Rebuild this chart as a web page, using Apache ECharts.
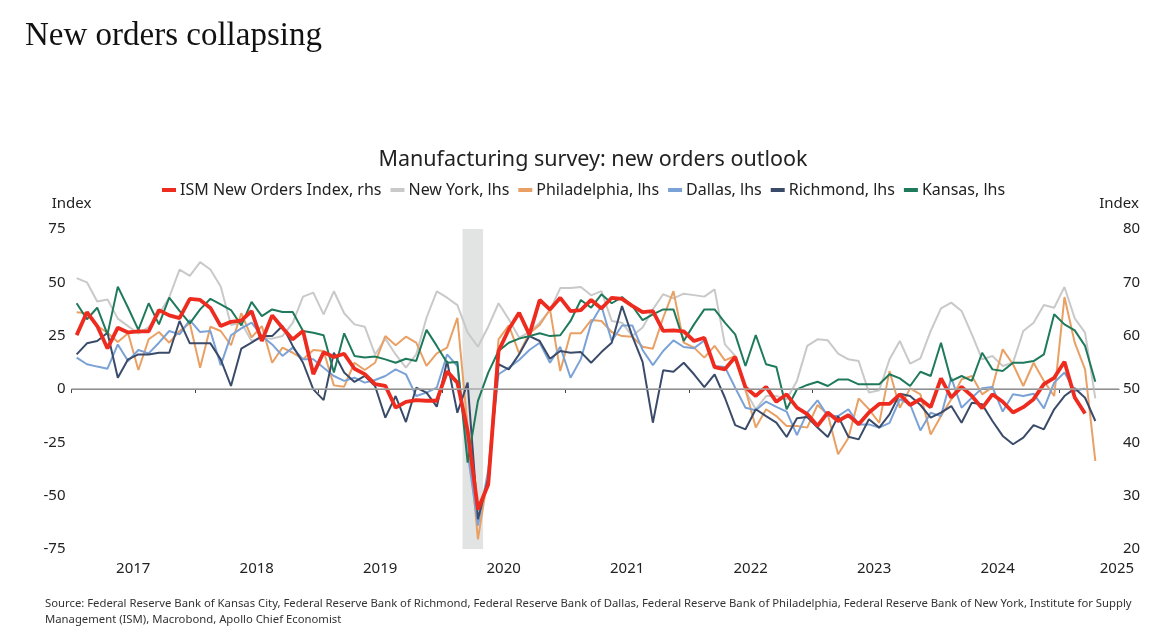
<!DOCTYPE html>
<html><head><meta charset="utf-8">
<script src="https://cdn.jsdelivr.net/npm/echarts@6/dist/echarts.min.js"></script>
<style>html,body{margin:0;padding:0;background:#fff}#c{width:1154px;height:632px}</style>
</head><body><div id="c"></div>
<script>
// Monthly data, first value = Jan 2017
const startYear = 2017;
const yearLabels = ['2017','2018','2019','2020','2021','2022','2023','2024','2025'];
const seriesNames = ['ISM New Orders Index, rhs','New York, lhs','Philadelphia, lhs','Dallas, lhs','Richmond, lhs','Kansas, lhs'];
// ISM new orders (rhs), Jan 2017 - Mar 2025
const ism = [60.1,64.4,61.8,57.6,61.5,60.6,60.8,60.8,64.8,63.8,63.3,66.9,66.7,65.2,61.8,62.6,62.8,64.6,59.0,
 63.8,61.5,59.3,60.9,52.8,56.9,56.0,56.6,53.8,52.8,50.9,50.6,46.5,47.6,47.9,47.8,47.8,53.3,51.2,
 42.1,27.4,32.1,57.1,61.2,64.3,60.2,66.7,64.9,67.1,64.6,64.8,66.7,65.1,67.1,66.9,65.6,64.4,64.6,
 60.9,61.0,60.8,59.0,59.6,54.1,53.7,56.0,50.3,48.7,50.4,47.6,49.0,46.5,45.3,43.1,45.6,44.0,45.1,
 43.4,45.6,47.2,47.2,49.0,47.0,48.1,46.6,52.0,48.4,50.4,48.7,46.4,49.0,47.6,45.6,46.6,48.1,50.9,
 52.1,55.1,48.4,45.4];
// Regional Fed surveys (lhs), Jan 2017 - Apr 2025
const newYork = [52,50,41,42,33,29.5,26,29,35,43,56,53,59.5,56,48,30,31,22.5,24,
 23.6,24.8,31,43.3,45.2,35,45.8,35.5,30.3,29.2,16.2,23.6,16.2,10,16.2,33.4,45.8,42.8,39.3,
 26.4,19.8,29.2,40.2,32.7,24.1,26.7,31.1,37,47.3,47.3,47.8,43.9,45.9,31.9,31.1,24.8,28.8,37.3,
 44.4,42.5,44.7,44,43.3,46.7,20.9,15.5,-0.9,-9.5,-3.3,-3.3,-4.8,3.8,20.2,23.3,22.8,16.6,13.9,
 13.1,-1.7,-0.6,13.9,22.5,11.9,14.4,27.2,37.8,40.5,36.6,25.6,13.9,15.5,10.8,12.3,27.2,31.1,39.4,
 38.1,47.8,33.1,26.4,-4.4];
const philadelphia = [36,35.5,29.5,26.4,22,26.1,8.9,23.3,26.7,21.7,27.2,30.8,10,29.2,27.2,20.5,35.5,24.2,29.5,
 12.3,19.4,17.0,14.0,18.3,17.8,1.7,1.1,12.3,8.9,12.3,24.8,20.5,24.5,21.7,10.8,16.7,19.4,33.4,
 -18,-70.5,-40,23.3,29.8,16.7,26.1,30,37.3,8.4,26.1,26.1,32.3,31.9,26.7,24.8,24.5,19.8,18.9,
 33.4,45.9,21.7,19.4,14.7,20.2,13.4,15.5,-0.2,-18.1,-9.5,-12.7,-17.3,-17.3,-18.1,-7.5,-11.9,-30.6,-23,
 -4.4,-9.5,-15.9,8.4,-8.75,0.3,-2.5,-21.3,-12.7,-4.8,4.5,6.1,-2.5,0.9,18.6,11.6,1.4,12.3,3.8,
 -3.3,43.1,21.7,9.2,-33.75];
const dallas = [14.7,11.6,10.5,9.5,20.9,13.1,18.3,16.7,21.7,27.2,25.6,32.3,26.7,27.2,11.1,25.2,28.4,31.1,24.8,
 20.9,15.5,19.4,13.9,13.9,10,6.1,3.8,5.3,3,4.2,6.1,9.2,6.9,-3.3,-1.7,0.6,16.2,10.8,
 -30,-64,-38,6.9,10,13.6,18.3,21.7,12.3,19.8,5.3,14.0,30.8,38.9,22.5,29.8,29.8,18.3,11.2,
 17.8,22.8,19.7,19.1,22.8,10.8,10.3,0.6,-8.75,-10,-5.9,-8.4,-10.6,-21.6,-11.1,-5.3,-12.7,-12.7,-9.5,
 -16.6,-16.6,-18.1,-15.9,-4.8,-7.2,-19.4,-11.1,-12.7,5.3,-8.75,-4.1,0.3,0.9,-10.6,-2.5,-3.3,-2.2,-9.1,
 3,7.7,-0.9,0.3];
const richmond = [16.2,21.4,22.5,26.4,5.3,13.9,16.2,16.2,17,17,31.9,21.4,21.4,21.4,13.9,1.4,18.9,21.7,24.8,
 24.8,29.5,20.2,12.3,-0.2,-5.2,17,7.7,3.3,6.1,1.4,-13.4,-3.3,-15.5,0.6,-1.7,-8.3,13.1,-11.1,
 3,-61,-42,11.6,9.2,16.2,24.8,22.5,14.2,17.8,17,17.3,12.3,17.3,21.7,38.9,24.8,12.7,-15.8,
 8.75,8.1,12.3,6.9,0.9,6.9,-4.1,-16.9,-18.9,-9.5,-12.7,-15.8,-22.5,-13.75,-13.1,-18.1,-22.5,-12.7,-22.4,
 -23.6,-14.2,-18.1,-11.9,-2.2,-3.3,-7.5,-13.4,-11.1,-8,-15.8,-6.4,-7.2,-15,-22,-25.9,-22.8,-16.9,-18.9,
 -9.5,-3.3,0.3,-4.1,-15];
const kansas = [40.2,32.7,38.1,25.6,48,38.1,27.7,40.2,30.3,42.8,36.6,30.8,37.3,42.3,39.7,37,29.8,40.8,34.2,
 37.3,36.1,36.1,27.2,26.4,25.2,7.7,26.1,15.5,14.8,15.2,13.9,12.3,14.2,13.1,27.7,20.2,12.3,12.7,
 -34.5,-5.6,7.7,17.8,21.7,23.6,24.8,26.1,24.8,25.2,31.9,41.7,38.1,44.4,40.2,43.1,38.9,32.3,35,
 37.3,37.3,22.5,30.3,37.3,37.3,31.1,25.6,10.8,25.3,11.6,10.3,-9.5,-0.2,1.9,3.4,1.4,4.4,4.4,
 2.2,2.2,2.2,6.9,5,1.4,8.1,6.1,21.7,3.8,6.1,3.8,17,9.2,8.4,12.3,12.3,13.1,16.2,
 35,30.3,27.5,20.2,3.4];
// Recession: Mar 2020 - Apr 2020
const recession = [['2020-03', '2020-04']];

function monthIdx(s){const [y,m]=s.split('-').map(Number);return (y-startYear)*12+(m-1);}
function pts(arr){return arr.map((v,i)=>[i+0.5,v]);}

const colors = ['#ee2b1f','#c9c9c9','#e9a064','#7ba2d6','#3a4b6a','#1f7a5c'];
const font = 'Noto Sans, Open Sans, sans-serif';
const chart = echarts.init(document.getElementById('c'));
const lineS = (name, data, color, w, yi, z) => ({
  name, type:'line', data:pts(data), yAxisIndex:yi, symbol:'none', z,
  lineStyle:{color, width:w}, itemStyle:{color}, emphasis:{disabled:true}, animation:false
});
const yearTickVals = yearLabels.slice(1).map((y,i)=>(i+1)*12);
const yearLabelVals = yearLabels.map((y,i)=> i < yearLabels.length-1 ? i*12+6 : Math.min(i*12+6, 101.6));

chart.setOption({
  animation:false,
  color: colors,
  graphic:[
    {type:'text', left:25, top:20, style:{text:'New orders collapsing', font:'33px "Liberation Serif", serif', fill:'#111'}},
    {type:'text', x:593, y:160, style:{text:'Manufacturing survey: new orders outlook', font:'21.5px '+font, fill:'#222', textAlign:'center', textVerticalAlign:'middle'}},
    {type:'text', left:45, top:596, style:{text:'Source: Federal Reserve Bank of Kansas City, Federal Reserve Bank of Richmond, Federal Reserve Bank of Dallas, Federal Reserve Bank of Philadelphia, Federal Reserve Bank of New York, Institute for Supply\nManagement (ISM), Macrobond, Apollo Chief Economist', font:'11.3px '+font, fill:'#333', lineHeight:16}}
  ],
  legend:{
    data: seriesNames, left:157, top:177, itemWidth:14, itemHeight:4, itemGap:9, icon:'rect',
    textStyle:{fontFamily:font, fontSize:16, color:'#222', padding:[0,0,0,-1]}
  },
  grid:{left:71.5, right:35, top:229, bottom:83},
  xAxis:{
    type:'value', min:0, max:101.8,
    axisLine:{show:true, lineStyle:{color:'#444', width:1}},
    axisTick:{show:true, length:4, lineStyle:{color:'#444'}, customValues:[0].concat(yearTickVals)},
    axisLabel:{show:true, customValues:yearLabelVals, formatter:v=>yearLabels[Math.floor(v/12)], fontFamily:font, fontSize:15, color:'#222', margin:12},
    splitLine:{show:false}
  },
  yAxis:[
    {type:'value', min:-75, max:75, interval:25, name:'Index', nameLocation:'end', nameGap:18,
     nameTextStyle:{fontFamily:font, fontSize:15, color:'#222', align:'center'},
     axisLine:{show:false}, axisTick:{show:false}, splitLine:{show:false},
     axisLabel:{fontFamily:font, fontSize:15, color:'#222', margin:6}},
    {type:'value', min:20, max:80, interval:10, name:'Index', nameLocation:'end', nameGap:18,
     nameTextStyle:{fontFamily:font, fontSize:15, color:'#222', align:'center'},
     axisLine:{show:false}, axisTick:{show:false}, splitLine:{show:false},
     axisLabel:{fontFamily:font, fontSize:15, color:'#222', margin:4}}
  ],
  series:[
    {name:'_base', type:'line', data:[], z:1, silent:true,
     markArea:{silent:true, itemStyle:{color:'#e2e3e3'}, data: recession.map(r=>[{xAxis:monthIdx(r[0])},{xAxis:monthIdx(r[1])+1}])},
     markLine:{silent:true, symbol:'none', label:{show:false}, lineStyle:{color:'#a8a8a8', width:1.5, type:'solid'}, data:[{yAxis:0}]}},
    lineS(seriesNames[1], newYork, colors[1], 2, 0, 2),
    lineS(seriesNames[2], philadelphia, colors[2], 2, 0, 2),
    lineS(seriesNames[3], dallas, colors[3], 2, 0, 2),
    lineS(seriesNames[4], richmond, colors[4], 2, 0, 2),
    lineS(seriesNames[5], kansas, colors[5], 2, 0, 2),
    lineS(seriesNames[0], ism, colors[0], 3.8, 1, 3)
  ]
});
</script></body></html>
